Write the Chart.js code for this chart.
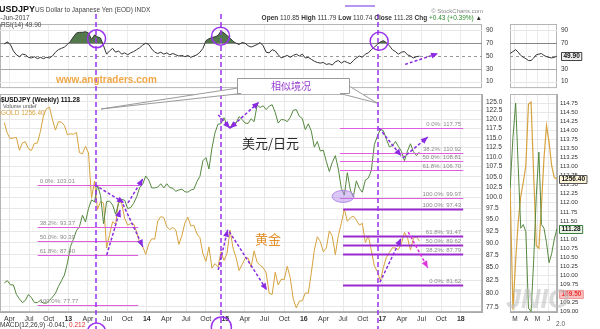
<!DOCTYPE html>
<html>
<head>
<meta charset="utf-8">
<script src="https://cdn.jsdelivr.net/npm/chart.js@4.4.1/dist/chart.umd.min.js"></script>
<style>
html, body { margin: 0; padding: 0; background: #fff; }
body { width: 600px; height: 329px; position: relative; overflow: hidden; font-family: Arial, "Liberation Sans", sans-serif; }
canvas { position: absolute; top: 0; }
.t { position: absolute; white-space: nowrap; color: #333; font-size: 6.5px; line-height: 1; z-index: 5; }
</style>
</head>
<body>
<canvas id="rsiMain" style="left:0" width="510" height="96"></canvas>
<canvas id="priceMain" style="left:0" width="510" height="329"></canvas>
<canvas id="rsiMini" style="left:500px" width="100" height="96"></canvas>
<canvas id="priceMini" style="left:500px" width="100" height="329"></canvas>

<div class="t" style="left:-6px;top:5px;font-size:9px;font-weight:bold;color:#111">$USDJPY</div>
<div class="t" style="left:35px;top:7px;color:#444">US Dollar to Japanese Yen (EOD) INDX</div>
<div class="t" style="left:-7px;top:15px;color:#444">23-Jun-2017</div>
<div class="t" style="left:-3px;top:22px;color:#444">&#9632;RSI(14) 49.90</div>
<div class="t" style="right:117px;top:8px;font-size:6px;color:#888">&copy; StockCharts.com</div>
<div class="t" style="right:118px;top:15px;color:#333"><b>Open</b> 110.85 <b>High</b> 111.79 <b>Low</b> 110.74 <b>Close</b> 111.28 <b>Chg</b> <span style="color:#2f8a2f">+0.43 (+0.39%)</span> &#9650;</div>
<div style="position:absolute;left:345px;top:5px;width:30px;height:0;border-top:2px solid #b596f0;z-index:5"></div>

<div class="t" style="left:-3px;top:97px;font-weight:bold;color:#111">&#9632;$USDJPY (Weekly) 111.28</div>
<div class="t" style="left:3px;top:104px;font-size:5.5px;color:#555">Volume undef</div>
<div class="t" style="left:-3px;top:110px;color:#d9a441">&#9632;GOLD 1256.40</div>
<div class="t" style="left:0;top:322px;color:#333">MACD(12,26,9) -0.041, <span style="color:#e03030">0.212</span></div>
<div class="t" style="left:556px;top:321px;color:#555">2.0</div>
<div class="t" style="left:506px;top:286px;font-size:27px;font-style:italic;font-weight:bold;color:rgba(190,190,190,0.55);z-index:6">JNIO</div>

<script>
// weekly closes, sampled every other week from 9 Mar 2012 to 23 Jun 2017
const usdjpy = [
  82.0, 82.4, 81.6, 81.6, 79.8, 79.0, 78.3, 78.7, 79.8, 79.2, 78.3, 78.3, 78.7, 78.2, 78.2, 78.7, 79.3, 80.0, 81.3, 82.4, 83.5, 85.9,
  89.2, 90.8, 92.6, 93.5, 96.0, 94.5, 97.5, 99.5, 99.0, 103.0, 100.5, 94.1, 99.1, 99.2, 98.3, 96.2, 98.7, 99.6, 99.4, 97.5, 97.7, 98.7, 100.2, 102.4, 103.2, 105.2,
  104.2, 102.3, 102.3, 102.5, 103.3, 102.3, 103.3, 102.4, 102.2, 101.5, 101.8, 102.0, 101.4, 101.3, 101.8, 102.0, 103.8, 105.1, 109.0, 109.8, 106.9, 112.3, 116.3, 118.7, 118.8, 120.5,
  118.5, 117.7, 119.1, 119.0, 120.8, 120.0, 119.0, 118.9, 120.2, 119.4, 124.1, 123.4, 123.9, 122.8, 123.8, 124.2, 122.0, 119.0, 120.0, 119.9, 119.4, 120.6, 122.6, 122.8, 120.9, 120.3,
  117.2, 118.8, 116.8, 112.5, 114.0, 111.5, 111.7, 108.8, 106.3, 108.6, 110.3, 106.9, 102.2, 100.6, 106.0, 101.8, 100.2, 104.0, 102.2, 101.3, 104.2, 104.7, 106.6, 113.2, 115.4, 117.3,
  116.9, 114.6, 112.6, 112.9, 114.0, 112.7, 111.4, 109.0, 111.5, 113.4, 111.3, 110.3, 111.28
];
const gold = [
  1710, 1662, 1640, 1643, 1645, 1591, 1622, 1627, 1598, 1590, 1620, 1621, 1671, 1739, 1773, 1780, 1724, 1677, 1714, 1712, 1697, 1657,
  1661, 1659, 1667, 1581, 1577, 1608, 1580, 1405, 1469, 1364, 1393, 1387, 1234, 1278, 1322, 1312, 1396, 1387, 1333, 1310, 1315, 1314, 1287, 1250, 1238, 1214,
  1247, 1264, 1263, 1324, 1339, 1336, 1304, 1295, 1302, 1293, 1246, 1274, 1317, 1337, 1307, 1309, 1280, 1268, 1216, 1192, 1238, 1171, 1185, 1175, 1222, 1195,
  1217, 1293, 1234, 1204, 1164, 1182, 1201, 1203, 1175, 1225, 1189, 1180, 1173, 1157, 1097, 1094, 1159, 1121, 1138, 1137, 1177, 1142, 1081, 1056, 1075, 1076,
  1098, 1097, 1157, 1227, 1271, 1255, 1222, 1234, 1290, 1272, 1213, 1275, 1316, 1366, 1323, 1335, 1341, 1327, 1310, 1316, 1252, 1274, 1226, 1178, 1161, 1133,
  1173, 1205, 1220, 1235, 1234, 1229, 1249, 1285, 1268, 1228, 1267, 1271, 1256.4
];
const rsi14 = [
  69, 72, 68, 58, 52, 49, 53, 52, 48, 47, 49, 46, 48, 46, 48, 47, 50, 56, 60, 62, 64, 68,
  73, 80, 86, 87, 87, 88, 86, 76, 83, 80, 78, 66, 53, 58, 62, 56, 58, 53, 55, 52, 55, 57, 60, 63, 67, 70,
  68, 61, 56, 54, 56, 53, 55, 52, 54, 52, 50, 51, 49, 51, 48, 50, 52, 56, 62, 74, 77, 79, 80, 82, 89, 86,
  82, 78, 73, 70, 68, 71, 70, 66, 64, 66, 68, 71, 66, 56, 55, 60, 58, 52, 47, 49, 51, 48, 51, 53, 50, 53,
  47, 48, 45, 42, 40, 39, 40, 37, 38, 36, 41, 43, 39, 42, 40, 38, 43, 47, 50, 48, 53, 55, 60, 64, 68, 72,
  74, 71, 66, 60, 57, 53, 56, 57, 52, 50, 47, 49, 49.9
];

// right-hand panel, weekly from 17 Feb 2017
const miniUsdjpy = [112.4, 113.8, 114.75, 113.0, 111.3, 111.4, 111.2, 109.1, 109.0, 110.4, 112.2, 113.4, 111.4, 111.3, 110.9, 110.35, 110.6, 111.0, 111.28];
const miniGold = [1252, 1201, 1222, 1238, 1249, 1255, 1262, 1288, 1289, 1258, 1228, 1227, 1245, 1265, 1279, 1272, 1262, 1257, 1256.4];
const miniRsi = [54, 57, 60, 56, 51, 48, 46, 43, 43, 47, 52, 53, 54, 51, 49, 48, 47, 48, 49.9];

// tick labels
const priceTicks = [77.5, 80.0, 82.5, 85.0, 87.5, 90.0, 92.5, 95.0, 97.5, 100.0, 102.5, 105.0, 107.5, 110.0, 112.5, 115.0, 117.5, 120.0, 122.5, 125.0];
const miniTicks = [109.00, 109.25, 109.50, 109.75, 110.00, 110.25, 110.50, 110.75, 111.00, 111.25, 111.50, 111.75, 112.00, 112.25, 112.50, 112.75, 113.00, 113.25, 113.50, 113.75, 114.00, 114.25, 114.50, 114.75];
const rsiTicks = [10, 30, 50, 70, 90];
const quarterNames = ['', 'Apr', 'Jul', 'Oct'];
const miniMonths = [3, 4, 5, 6];
const miniMonthNames = ['M', 'A', 'M', 'J'];

// Fibonacci retracement levels
const fibLeft = [['0.0%', 103.01], ['38.2%', 93.37], ['50.0%', 90.39], ['61.8%', 87.40], ['100.0%', 77.77]];
const fibUsd = [['0.0%', 117.75], ['38.2%', 110.92], ['50.0%', 108.81], ['61.8%', 106.70], ['100.0%', 99.97]];
const fibGold = [['100.0%', 97.43], ['61.8%', 91.47], ['50.0%', 89.62], ['38.2%', 87.79], ['0.0%', 81.62]];

const X_MIN = 2012.13, X_MAX = 2018.27;
const DAY = 86400000;

function decYear(ms) {
  const y = new Date(ms).getUTCFullYear();
  const a = Date.UTC(y, 0, 1), b = Date.UTC(y + 1, 0, 1);
  return y + (ms - a) / (b - a);
}
function decMonth(ms) {
  const d = new Date(ms), m = d.getUTCMonth();
  const dim = new Date(Date.UTC(d.getUTCFullYear(), m + 1, 0)).getUTCDate();
  return m + 1 + (d.getUTCDate() - 1) / dim;
}
const weekX = usdjpy.map((_, i) => decYear(Date.UTC(2012, 2, 9) + i * 14 * DAY));
const miniX = miniUsdjpy.map((_, i) => decMonth(Date.UTC(2017, 1, 17) + i * 7 * DAY));
const pts = (xs, ys) => ys.map((v, i) => ({ x: xs[i], y: v }));

const quarterTicks = [];
for (let q = 2012.25; q <= 2018.01; q += 0.25) quarterTicks.push(q);

const noUi = { legend: { display: false }, tooltip: { enabled: false } };

const frame = {
  id: 'frame',
  beforeDatasetsDraw(chart) {
    const a = chart.chartArea, ctx = chart.ctx;
    ctx.save();
    ctx.strokeStyle = '#b5b5b5';
    ctx.lineWidth = 1;
    ctx.strokeRect(a.left + 0.5, a.top + 0.5, a.right - a.left - 1, a.bottom - a.top - 1);
    ctx.restore();
  }
};

// RSI guide lines at 90/70/50/30/10
const rsiGuides = {
  id: 'rsiGuides',
  beforeDatasetsDraw(chart) {
    const { ctx, chartArea: a, scales: { y } } = chart;
    ctx.save();
    rsiTicks.forEach(v => {
      const py = Math.round(y.getPixelForValue(v)) + 0.5;
      ctx.setLineDash(v === 50 ? [3, 3] : []);
      ctx.strokeStyle = v === 70 ? '#8c8c8c' : v === 30 ? '#a8a8a8' : v === 50 ? '#999' : '#e6e6e6';
      ctx.beginPath(); ctx.moveTo(a.left, py); ctx.lineTo(a.right, py); ctx.stroke();
    });
    ctx.restore();
  }
};

function rsiOptions(xMin, xMax, xTicks, leftPad) {
  return {
    responsive: false, animation: false, events: [],
    layout: { padding: { top: 24, bottom: 2, left: leftPad, right: 0 } },
    plugins: noUi,
    scales: {
      x: {
        type: 'linear', min: xMin, max: xMax,
        afterBuildTicks: s => { s.ticks = xTicks.map(v => ({ value: v })); },
        afterFit: s => { s.height = 0; },
        ticks: { display: false },
        grid: { color: '#ececec', drawTicks: false },
        border: { display: false }
      },
      y: {
        position: 'right', min: 0, max: 100,
        afterBuildTicks: s => { s.ticks = rsiTicks.map(v => ({ value: v })); },
        afterFit: s => { s.width = leftPad ? 43 : 28; },
        grid: { display: false, drawTicks: false },
        border: { display: false },
        ticks: { padding: 4, color: '#333', font: { size: 6.5 } }
      }
    }
  };
}

function rsiDataset(xs, ys) {
  return {
    data: pts(xs, ys), borderColor: '#333', borderWidth: 1, pointRadius: 0,
    fill: { target: { value: 70 }, above: '#52784c', below: 'rgba(0,0,0,0)' }
  };
}

const rsiChart = new Chart(document.getElementById('rsiMain'), {
  type: 'line',
  data: { datasets: [rsiDataset(weekX, rsi14)] },
  options: rsiOptions(X_MIN, X_MAX, quarterTicks, 0),
  plugins: [frame, rsiGuides]
});

const PURPLE = '#9933ee';
const ARROW = '#8a2be2';

function arrowHead(ctx, x, y, ang) {
  ctx.beginPath();
  ctx.moveTo(x, y);
  ctx.lineTo(x - 7 * Math.cos(ang) + 3 * Math.sin(ang), y - 7 * Math.sin(ang) - 3 * Math.cos(ang));
  ctx.lineTo(x - 7 * Math.cos(ang) - 3 * Math.sin(ang), y - 7 * Math.sin(ang) + 3 * Math.cos(ang));
  ctx.closePath();
  ctx.fill();
}
function arrow(ctx, x0, y0, x1, y1, color, both) {
  ctx.save();
  ctx.strokeStyle = color; ctx.fillStyle = color; ctx.lineWidth = 1.5;
  ctx.setLineDash([3, 2]);
  ctx.beginPath(); ctx.moveTo(x0, y0); ctx.lineTo(x1, y1); ctx.stroke();
  ctx.setLineDash([]);
  const ang = Math.atan2(y1 - y0, x1 - x0);
  arrowHead(ctx, x1, y1, ang);
  if (both) arrowHead(ctx, x0, y0, ang + Math.PI);
  ctx.restore();
}

// trend arrows on the price panel: [t0, price0, t1, price1, colour, double-headed]
const priceArrows = [
  [2013.34, 103.0, 2013.71, 98.8, ARROW, false],
  [2013.76, 98.8, 2013.95, 104.5, ARROW, false],
  [2013.49, 87.5, 2013.66, 97.2, ARROW, false],
  [2013.67, 99.5, 2013.95, 89.2, ARROW, false],
  [2014.91, 121.3, 2015.06, 117.6, ARROW, false],
  [2015.06, 117.6, 2015.43, 125.0, ARROW, true],
  [2014.91, 84.5, 2015.03, 92.8, ARROW, false],
  [2015.05, 92.4, 2015.53, 80.6, ARROW, false],
  [2016.96, 117.6, 2017.24, 110.2, ARROW, false],
  [2017.26, 109.7, 2017.58, 115.2, ARROW, false],
  [2016.97, 82.1, 2017.24, 91.0, ARROW, false],
  [2017.33, 92.3, 2017.58, 84.9, '#dd33dd', false]
];
const markerLines = [2013.353, 2014.945, 2016.945];
const rsiCircles = [[2013.36, 77], [2014.94, 81], [2016.96, 73]];

const priceMarks = {
  id: 'priceMarks',
  afterDraw(chart) {
    const { ctx, chartArea: a, scales: { x, y } } = chart;
    const px = t => x.getPixelForValue(t);
    const py = v => y.getPixelForValue(v);
    const ry = v => rsiChart.scales.y.getPixelForValue(v);
    ctx.save();

    // Fibonacci levels
    const fibSet = (levels, t0, t1, color, width, alignRight) => {
      levels.forEach(([pct, v]) => {
        const yy = Math.round(py(v)) + 0.5;
        ctx.strokeStyle = color; ctx.lineWidth = width;
        ctx.beginPath(); ctx.moveTo(px(t0), yy); ctx.lineTo(px(t1), yy); ctx.stroke();
        ctx.fillStyle = '#8a8a8a';
        ctx.font = '6px Arial';
        ctx.textBaseline = 'bottom';
        ctx.textAlign = alignRight ? 'right' : 'left';
        ctx.fillText(pct + ': ' + v.toFixed(2), alignRight ? px(t1) - 2 : px(t0) + 2, yy - 1);
      });
    };
    fibSet(fibLeft, 2012.61, 2013.89, '#e05ce0', 1, false);
    fibSet(fibUsd, 2016.46, 2018.03, '#e05ce0', 1, true);
    fibSet(fibGold, 2016.50, 2018.03, '#9b2bd0', 2, true);

    // double-bottom highlight
    ctx.fillStyle = 'rgba(175,130,235,0.45)';
    ctx.strokeStyle = '#b58ae6'; ctx.lineWidth = 1;
    ctx.beginPath(); ctx.ellipse(px(2016.5), py(100.3), 11, 6, 0, 0, Math.PI * 2); ctx.fill(); ctx.stroke();

    // dashed event markers across both panels
    ctx.strokeStyle = PURPLE; ctx.lineWidth = 1.5; ctx.setLineDash([5, 3]);
    markerLines.forEach(t => {
      const xx = Math.round(px(t));
      ctx.beginPath(); ctx.moveTo(xx, 14); ctx.lineTo(xx, 329); ctx.stroke();
    });
    ctx.setLineDash([]);

    // RSI circles and the ones on the date axis
    ctx.lineWidth = 1.5;
    rsiCircles.forEach(([t, v]) => {
      ctx.beginPath(); ctx.arc(px(t), ry(v), 9, 0, Math.PI * 2); ctx.stroke();
    });
    ctx.beginPath(); ctx.arc(px(2013.36), a.bottom + 20, 9, 0, Math.PI * 2); ctx.stroke();
    ctx.beginPath(); ctx.arc(px(2014.95), a.bottom + 15, 10, 0, Math.PI * 2); ctx.stroke();

    priceArrows.forEach(([t0, v0, t1, v1, c, both]) => arrow(ctx, px(t0), py(v0), px(t1), py(v1), c, both));
    arrow(ctx, px(2017.29), ry(37), px(2017.71), ry(54), ARROW, false);

    // callout
    ctx.fillStyle = '#fff'; ctx.strokeStyle = '#9a9a9a'; ctx.lineWidth = 1;
    ctx.beginPath(); ctx.moveTo(238, 88); ctx.lineTo(101, 109); ctx.lineTo(241, 93.5); ctx.closePath(); ctx.fill(); ctx.stroke();
    ctx.beginPath(); ctx.moveTo(349, 86); ctx.lineTo(377, 103); ctx.lineTo(340, 93.5); ctx.closePath(); ctx.fill(); ctx.stroke();
    ctx.fillRect(237.5, 78.5, 112, 15);
    ctx.beginPath();
    ctx.moveTo(241, 93.5); ctx.lineTo(237.5, 93.5); ctx.lineTo(237.5, 78.5); ctx.lineTo(349.5, 78.5); ctx.lineTo(349.5, 93.5); ctx.lineTo(340, 93.5);
    ctx.stroke();
    ctx.fillStyle = '#9a40d0';
    ctx.font = '10px "Noto Sans CJK SC"';
    ctx.textAlign = 'center'; ctx.textBaseline = 'middle';
    ctx.fillText('相似境况', 291, 86.5);

    ctx.fillStyle = '#f0a848';
    ctx.font = 'bold 10px Arial';
    ctx.textAlign = 'left';
    ctx.fillText('www.angtraders.com', 56, 80);

    ctx.fillStyle = '#2a2a2a';
    ctx.font = '13px "Noto Sans CJK SC"';
    ctx.fillText('美元/日元', 242, 143);
    ctx.fillStyle = '#e3922e';
    ctx.fillText('黄金', 255, 239);
    ctx.restore();
  }
};

const priceChart = new Chart(document.getElementById('priceMain'), {
  type: 'line',
  data: {
    datasets: [
      { data: pts(weekX, usdjpy), yAxisID: 'y', borderColor: '#55883f', borderWidth: 1, pointRadius: 0 },
      { data: pts(weekX, gold), yAxisID: 'g', borderColor: '#d6a23e', borderWidth: 1, pointRadius: 0 }
    ]
  },
  options: {
    responsive: false, animation: false, events: [],
    layout: { padding: { top: 94, left: 0, right: 0, bottom: 0 } },
    plugins: noUi,
    scales: {
      x: {
        type: 'linear', min: X_MIN, max: X_MAX,
        afterBuildTicks: s => { s.ticks = quarterTicks.map(v => ({ value: v })); },
        afterFit: s => { s.height = 17; },
        grid: { color: '#e8e8e8', drawTicks: false },
        border: { color: '#aaa' },
        ticks: {
          padding: 3, autoSkip: false, maxRotation: 0, color: '#333',
          font: c => ({ size: 7, weight: c.tick && Math.abs(c.tick.value % 1) < 0.01 ? 'bold' : 'normal' }),
          callback: v => {
            const q = Math.round((v % 1) * 4);
            return q === 0 ? String(Math.round(v)).slice(2) : quarterNames[q];
          }
        }
      },
      y: {
        type: 'logarithmic', position: 'right', min: 76.6, max: 127.35,
        afterBuildTicks: s => { s.ticks = priceTicks.map(v => ({ value: v })); },
        afterFit: s => { s.width = 28; },
        grid: { color: '#e8e8e8', drawTicks: false },
        border: { color: '#aaa' },
        ticks: { padding: 4, autoSkip: false, color: '#333', font: { size: 6.5 }, callback: v => Number(v).toFixed(1) }
      },
      g: { type: 'logarithmic', display: false, min: 1045, max: 1842 }
    }
  },
  plugins: [frame, priceMarks]
});

// value tags on the right-hand panel
function tag(ctx, x, y, text, fg, bg, edge) {
  ctx.save();
  ctx.font = 'bold 6.5px Arial';
  const w = ctx.measureText(text).width + 4;
  ctx.fillStyle = bg; ctx.strokeStyle = edge; ctx.lineWidth = 1;
  ctx.beginPath(); ctx.rect(Math.round(x) + 0.5, Math.round(y - 4) + 0.5, w, 8); ctx.fill(); ctx.stroke();
  ctx.fillStyle = fg; ctx.textBaseline = 'middle'; ctx.textAlign = 'left';
  ctx.fillText(text, x + 2.5, y + 0.5);
  ctx.restore();
}

const miniRsiTag = {
  id: 'miniRsiTag',
  afterDraw(chart) {
    const { ctx, chartArea: a, scales: { y } } = chart;
    tag(ctx, a.right + 4, y.getPixelForValue(49.9), '49.90', '#111', '#eeeeee', '#444');
  }
};

const miniPriceTags = {
  id: 'miniPriceTags',
  afterDraw(chart) {
    const { ctx, chartArea: a, scales: { y, g } } = chart;
    tag(ctx, a.right + 2, g.getPixelForValue(1256.4), '1256.40', '#111', '#fff6dc', '#555');
    tag(ctx, a.right + 2, y.getPixelForValue(111.28), '111.28', '#111', '#eaf4e6', '#3d7a3d');
    tag(ctx, a.right + 2, y.getPixelForValue(109.5), '109.50', '#ee3333', '#f7c0c0', '#f29a9a');
  }
};

const miniOpts = rsiOptions(2.56, 6.74, miniMonths, 10);
new Chart(document.getElementById('rsiMini'), {
  type: 'line',
  data: { datasets: [rsiDataset(miniX, miniRsi)] },
  options: miniOpts,
  plugins: [frame, rsiGuides, miniRsiTag]
});

new Chart(document.getElementById('priceMini'), {
  type: 'line',
  data: {
    datasets: [
      { data: pts(miniX, miniUsdjpy), yAxisID: 'y', borderColor: '#55883f', borderWidth: 1, pointRadius: 0 },
      { data: pts(miniX, miniGold), yAxisID: 'g', borderColor: '#d6a23e', borderWidth: 1.2, pointRadius: 0 }
    ]
  },
  options: {
    responsive: false, animation: false, events: [],
    layout: { padding: { top: 94, left: 10, right: 0, bottom: 0 } },
    plugins: noUi,
    scales: {
      x: {
        type: 'linear', min: 2.56, max: 6.74,
        afterBuildTicks: s => { s.ticks = miniMonths.map(v => ({ value: v })); },
        afterFit: s => { s.height = 17; },
        grid: { color: '#e8e8e8', drawTicks: false },
        border: { color: '#aaa' },
        ticks: { padding: 3, autoSkip: false, maxRotation: 0, color: '#333', font: { size: 6.5 }, callback: (v, i) => miniMonthNames[i] }
      },
      y: {
        position: 'right', min: 108.99, max: 115.0,
        afterBuildTicks: s => { s.ticks = miniTicks.map(v => ({ value: v })); },
        afterFit: s => { s.width = 43; },
        grid: { color: '#e8e8e8', drawTicks: false },
        border: { color: '#aaa' },
        ticks: { padding: 3, autoSkip: false, color: '#333', font: { size: 6 }, callback: v => Number(v).toFixed(2) }
      },
      g: { display: false, min: 1200, max: 1292.4 }
    }
  },
  plugins: [frame, miniPriceTags]
});
</script>
</body>
</html>
